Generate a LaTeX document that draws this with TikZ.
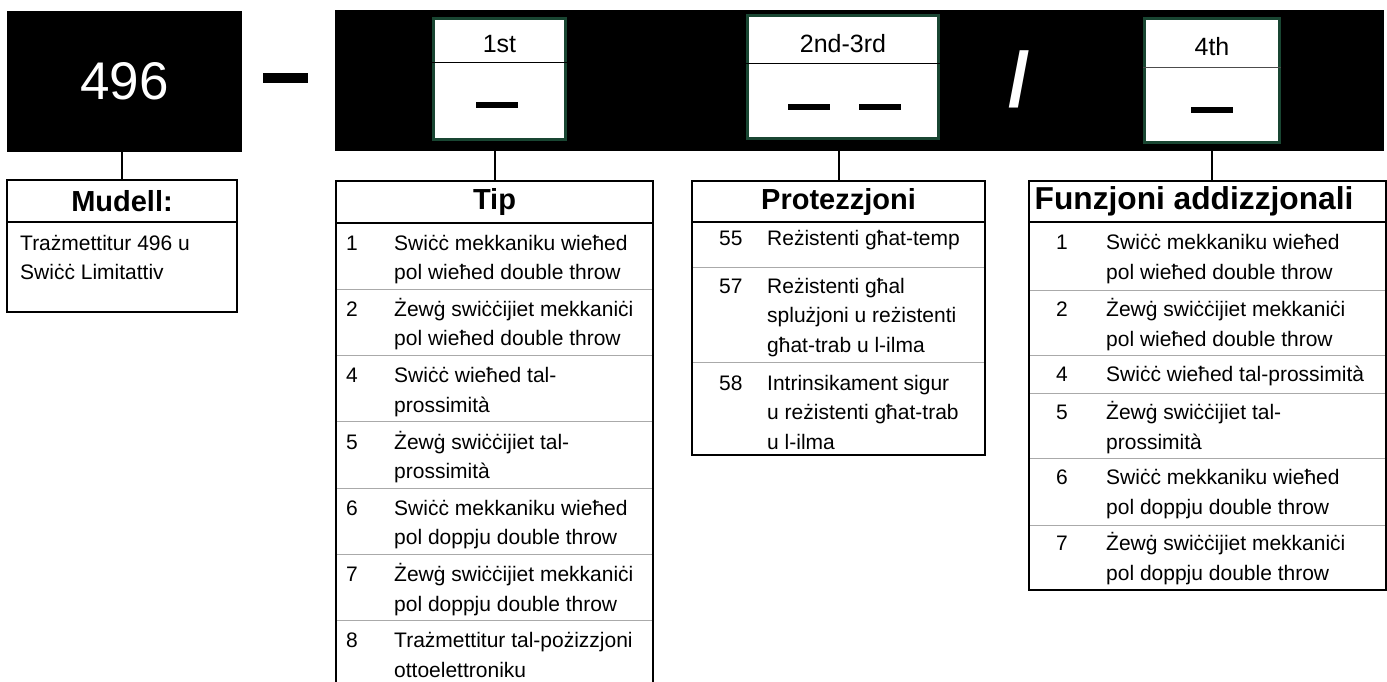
\documentclass[tikz,border=0pt]{standalone}
\usepackage{fontspec}
\setmainfont{Liberation Sans}
\definecolor{boxgreen}{RGB}{25,70,50}
\definecolor{rowgray}{RGB}{170,170,170}
\tikzset{
  blk/.style={fill=black, draw=none, inner sep=0pt},
  digbox/.style={fill=white, draw=boxgreen, line width=3pt, inner sep=0pt},
  hdr/.style={inner sep=0pt, font=\bfseries\fontsize{29}{34}\selectfont},
  frame/.style={draw=black, line width=2.5pt},
  hdiv/.style={draw=black, line width=1.8pt},
  rdiv/.style={draw=rowgray, line width=1pt},
  conn/.style={draw=black, line width=2pt},
  cell/.style={anchor=north west, inner sep=0pt, align=left, font=\fontsize{21}{29.5}\selectfont},
  bar/.style={fill=black, draw=none}
}
\begin{document}
\begin{tikzpicture}[x=1pt, y=-1pt]
\useasboundingbox (0,0) rectangle (1387,681);
% black bars
\node[blk, minimum width=235pt, minimum height=141pt] (blk1) at (124.5,81.5)
  {\color{white}\fontsize{53}{60}\selectfont 496};
\node[blk, minimum width=1049pt, minimum height=141pt] (blk2) at (859.5,80.5) {};
\fill[black] (263,73) rectangle (308,83);
% digit boxes
\node[digbox, minimum width=132pt, minimum height=121pt] (b1) at (499.5,79) {};
\node[digbox, minimum width=191pt, minimum height=123pt] (b2) at (843,77) {};
\node[digbox, minimum width=135pt, minimum height=124pt] (b3) at (1212,80.5) {};
\draw[line width=1pt] (b1.west |- 0,62) -- (b1.east |- 0,62);
\draw[line width=1pt] (b2.west |- 0,63) -- (b2.east |- 0,63);
\draw[line width=1pt, draw=black!70] (b3.west |- 0,67) -- (b3.east |- 0,67);
\node[anchor=base, inner sep=0pt, font=\fontsize{25}{30}\selectfont] (t1) at (499.5,52) {1st};
\node[anchor=base, inner sep=0pt, font=\fontsize{25}{30}\selectfont] (t2) at (843,52) {2nd-3rd};
\node[anchor=base, inner sep=0pt, font=\fontsize{25}{30}\selectfont] (t3) at (1212,55) {4th};
\fill[bar] (476,102) rectangle (518,108);
\fill[bar] (788,104) rectangle (830,110);
\fill[bar] (859,104) rectangle (901,110);
\fill[bar] (1191,107) rectangle (1233,113);
\node[anchor=base, inner sep=0pt, text=white, font=\bfseries\fontsize{77}{80}\selectfont] (slash) at (1019,106) {/};

% ---------- Mudell ----------
\node[hdr, minimum width=230pt, minimum height=42pt] (mudell) at (122,201) {Mudell:};
\draw[frame] (7,180) rectangle (237,312);
\draw[hdiv] (7,222) -- (237,222);
\node[cell] (m1) at (20,229.2) {\strut Trażmettitur 496 u\\Swiċċ Limitattiv};
\draw[conn] (blk1.south -| mudell.north) -- (mudell.north);

% ---------- Tip ----------
\node[hdr, minimum width=317pt, minimum height=42pt] (tip) at (494.5,202) {Tip};
\draw[frame] (336,690) -- (336,181) -- (653,181) -- (653,690);
\draw[hdiv] (336,223) -- (653,223);
\foreach \y in {289.3,355.6,421.9,488.2,554.5,620.8} \draw[rdiv] (337,\y) -- (652,\y);
\node[cell] (tn1) at (346,229.3) {\strut 1};
\node[cell] (tx1) at (394,229.3) {\strut Swiċċ mekkaniku wieħed\\pol wieħed double throw};
\node[cell] (tn2) at (346,295.6) {\strut 2};
\node[cell] (tx2) at (394,295.6) {\strut Żewġ swiċċijiet mekkaniċi\\pol wieħed double throw};
\node[cell] (tn4) at (346,361.9) {\strut 4};
\node[cell] (tx4) at (394,361.9) {\strut Swiċċ wieħed tal-\\prossimità};
\node[cell] (tn5) at (346,428.2) {\strut 5};
\node[cell] (tx5) at (394,428.2) {\strut Żewġ swiċċijiet tal-\\prossimità};
\node[cell] (tn6) at (346,494.5) {\strut 6};
\node[cell] (tx6) at (394,494.5) {\strut Swiċċ mekkaniku wieħed\\pol doppju double throw};
\node[cell] (tn7) at (346,560.8) {\strut 7};
\node[cell] (tx7) at (394,560.8) {\strut Żewġ swiċċijiet mekkaniċi\\pol doppju double throw};
\node[cell] (tn8) at (346,627.1) {\strut 8};
\node[cell] (tx8) at (394,627.1) {\strut Trażmettitur tal-pożizzjoni\\ottoelettroniku};
\draw[conn] (blk2.south -| tip.north) -- (tip.north);

% ---------- Protezzjoni ----------
\node[hdr, minimum width=293pt, minimum height=41pt] (prot) at (838.5,201.5) {Protezzjoni};
\draw[frame] (692,181) rectangle (985,455);
\draw[hdiv] (692,222) -- (985,222);
\draw[rdiv] (693,267) -- (984,267);
\draw[rdiv] (693,362) -- (984,362);
\node[cell] (pn1) at (719,224.2) {\strut 55};
\node[cell] (px1) at (767,224.2) {\strut Reżistenti għat-temp};
\node[cell] (pn2) at (719,272.2) {\strut 57};
\node[cell] (px2) at (767,272.2) {\strut Reżistenti għal\\splużjoni u reżistenti\\għat-trab u l-ilma};
\node[cell] (pn3) at (719,369.2) {\strut 58};
\node[cell] (px3) at (767,369.2) {\strut Intrinsikament sigur\\u reżistenti għat-trab\\u l-ilma};
\draw[conn] (blk2.south -| prot.north) -- (prot.north);

% ---------- Funzjoni addizzjonali ----------
\node[hdr, minimum height=41pt, font=\bfseries\fontsize{31.7}{36}\selectfont] (funz) at (1194,201.5) {Funzjoni addizzjonali};
\draw[frame] (1029,181) rectangle (1386,590);
\draw[hdiv] (1029,222) -- (1386,222);
\foreach \y in {290,355,393,458,525} \draw[rdiv] (1030,\y) -- (1385,\y);
\node[cell] (fn1) at (1056,229) {\strut 1};
\node[cell] (fx1) at (1106,229) {\strut Swiċċ mekkaniku wieħed\\pol wieħed double throw};
\node[cell] (fn2) at (1056,296) {\strut 2};
\node[cell] (fx2) at (1106,296) {\strut Żewġ swiċċijiet mekkaniċi\\pol wieħed double throw};
\node[cell] (fn4) at (1056,361) {\strut 4};
\node[cell] (fx4) at (1106,361) {\strut Swiċċ wieħed tal-prossimità};
\node[cell] (fn5) at (1056,399) {\strut 5};
\node[cell] (fx5) at (1106,399) {\strut Żewġ swiċċijiet tal-\\prossimità};
\node[cell] (fn6) at (1056,464) {\strut 6};
\node[cell] (fx6) at (1106,464) {\strut Swiċċ mekkaniku wieħed\\pol doppju double throw};
\node[cell] (fn7) at (1056,530) {\strut 7};
\node[cell] (fx7) at (1106,530) {\strut Żewġ swiċċijiet mekkaniċi\\pol doppju double throw};
\draw[conn] (blk2.south -| b3.south) -- (b3.south |- funz.north);
\end{tikzpicture}
\end{document}
